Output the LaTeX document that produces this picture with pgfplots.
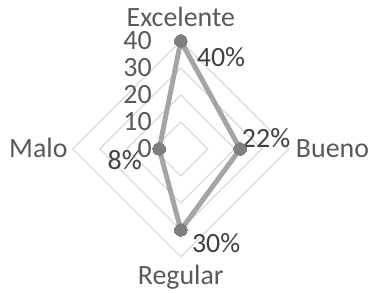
\documentclass[border=0pt]{standalone}
\usepackage{pgfplots}
\pgfplotsset{compat=1.18}
\usepackage{fontspec}
\setmainfont{Carlito}
\definecolor{gridc}{HTML}{D9D9D9}
\definecolor{linec}{HTML}{A5A5A5}
\definecolor{markc}{HTML}{7F7F7F}
\definecolor{labc}{HTML}{595959}
\definecolor{pctc}{HTML}{404040}
\tikzset{big/.style={font=\fontsize{28}{30}\selectfont, inner sep=0pt}}
\begin{document}
\begin{tikzpicture}
\begin{axis}[
  scale only axis, width=216bp, height=216bp,
  xmin=-40, xmax=40, ymin=-40, ymax=40,
  hide axis, clip=false,
]
% grid diamonds
\foreach \r in {10,20,30,40}{
  \edef\tmp{\noexpand\addplot[gridc, line width=1.2pt, forget plot] coordinates {(0,\r) (\r,0) (0,-\r) (-\r,0) (0,\r)};}
  \tmp
}
% data: Excelente 40, Bueno 22, Regular 30, Malo 8
\addplot[linec, line width=5pt, line join=round, mark=*, mark size=6.3pt,
  mark options={draw=markc, fill=markc, line width=0pt}]
  coordinates {(0,40) (22,0) (0,-30) (-8,0) (0,40)};
% category labels
\node[big, labc, anchor=base] at (axis cs:0,45.2) {Excelente};
\node[big, labc, anchor=base west] at (axis cs:42.6,-3.3) {Bueno};
\node[big, labc, anchor=base] at (axis cs:0,-50.4) {Regular};
\node[big, labc, anchor=base east] at (axis cs:-41.9,-3.3) {Malo};
% radial tick labels
\foreach \v in {0,10,20,30,40}{
  \edef\tmp{\noexpand\node[big, labc, anchor=east] at (axis cs:-10.7,\v) {\v};}
  \tmp
}
% data labels
\node[big, pctc, anchor=west] at (axis cs:5.9,34) {40\%};
\node[big, pctc, anchor=west] at (axis cs:22.6,4.1) {22\%};
\node[big, pctc, anchor=west] at (axis cs:4.1,-34.8) {30\%};
\node[big, pctc, anchor=east] at (axis cs:-14.4,-4.1) {8\%};
% bounding box
\path[use as bounding box] (axis cs:-67,-53.3) rectangle (axis cs:69.6,55.2);
\end{axis}
\end{tikzpicture}
\end{document}
